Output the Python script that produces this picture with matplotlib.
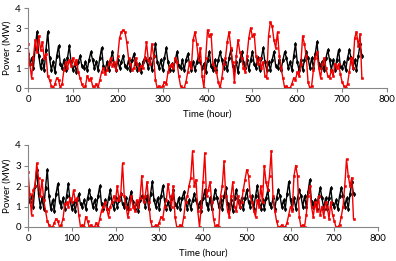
import numpy as np
import matplotlib
matplotlib.use("Agg")
import matplotlib.pyplot as plt

# hourly data sampled every 4 h (0 .. 744 h)
step_hours = 4

load_black = [
    1.7, 1.2, 1.5, 1.0, 2.0, 2.8,
    1.6, 1.0, 1.4, 0.9, 1.9, 2.8,
    1.5, 0.9, 1.3, 0.8, 1.6, 2.1,
    1.2, 1.0, 1.4, 0.9, 1.5, 2.1,
    1.3, 0.9, 1.2, 0.8, 1.3, 1.6,
    1.1, 1.0, 1.3, 0.9, 1.4, 1.8,
    1.4, 1.0, 1.3, 0.9, 1.5, 2.0,
    1.1, 0.9, 1.3, 0.9, 1.4, 1.8,
    1.2, 0.9, 1.4, 1.0, 1.3, 1.6,
    1.1, 1.0, 1.4, 0.9, 1.4, 1.7,
    1.2, 0.9, 1.2, 0.8, 1.3, 1.5,
    1.4, 1.0, 1.5, 0.9, 1.6, 2.2,
    1.3, 1.0, 1.4, 0.9, 1.5, 2.0,
    1.3, 0.9, 1.2, 0.9, 1.4, 1.8,
    1.1, 1.0, 1.4, 0.9, 1.4, 1.7,
    1.2, 0.9, 1.3, 0.9, 1.3, 1.6,
    1.3, 1.0, 1.2, 0.8, 1.4, 1.8,
    1.1, 0.9, 1.4, 0.9, 1.4, 1.8,
    1.4, 1.0, 1.3, 0.9, 1.5, 1.9,
    1.1, 0.9, 1.3, 0.8, 1.4, 1.8,
    1.3, 1.0, 1.4, 0.9, 1.4, 1.8,
    1.2, 1.0, 1.5, 0.9, 1.5, 2.0,
    1.3, 0.9, 1.3, 0.9, 1.4, 1.8,
    1.1, 1.0, 1.4, 0.9, 1.4, 1.8,
    1.5, 1.0, 1.3, 0.9, 1.6, 2.2,
    1.3, 0.9, 1.4, 0.9, 1.4, 1.8,
    1.5, 1.0, 1.5, 1.0, 1.7, 2.3,
    1.2, 1.0, 1.3, 0.9, 1.5, 1.9,
    1.4, 0.9, 1.4, 0.9, 1.4, 1.9,
    1.1, 1.0, 1.3, 0.9, 1.5, 1.9,
    1.5, 1.0, 1.4, 0.9, 1.6, 2.2,
    1.6,
]

red_top = [
    2.2, 1.2, 0.5, 1.5, 2.4, 1.8, 2.6, 1.9, 2.3, 1.5,
    1.7, 0.6, 0.4, 0.1, 0.0, 0.2, 0.5, 0.4, 0.0, 0.2,
    0.9, 1.3, 1.0, 1.4, 1.1, 1.5, 1.2, 1.4, 0.8, 0.5,
    0.2, 0.0, 0.1, 0.6, 0.4, 0.5, 0.1, 0.0, 0.2, 0.0,
    0.4, 0.8, 1.0, 0.7, 0.9, 1.2, 1.5, 1.1, 1.3, 0.9,
    1.6, 2.5, 2.8, 2.9, 2.8, 2.3, 1.5, 1.2, 0.9, 1.0,
    1.5, 1.2, 0.9, 1.1, 1.0, 1.5, 2.3, 1.4, 1.2, 2.2,
    1.6, 0.4, 0.0, 0.1, 0.0, 0.1, 0.3, 0.2, 0.8, 1.1,
    1.2, 1.0, 1.5, 1.3, 0.6, 0.1, 0.0, 0.0, 0.3, 0.8,
    1.3, 1.0, 2.4, 2.8, 2.2, 1.4, 2.0, 0.6, 0.0, 1.5,
    2.9, 2.6, 2.7, 1.2, 1.0, 0.8, 0.3, 0.0, 0.5, 1.2,
    1.5, 2.3, 2.8, 2.0, 1.3, 0.3, 1.6, 2.4, 1.8, 1.5,
    1.0, 0.8, 1.6, 2.5, 3.0, 2.6, 2.7, 1.6, 1.2, 1.5,
    1.0, 1.3, 0.6, 0.5, 2.6, 3.3, 3.1, 2.4, 2.0, 2.8,
    1.6, 1.0, 0.5, 0.0, 0.1, 0.0, 0.0, 0.2, 0.5, 0.4,
    0.8, 0.6, 1.2, 2.6, 2.2, 1.6, 0.3, 0.0, 0.1, 0.9,
    1.5, 1.8, 1.0, 0.5, 1.2, 1.5, 1.0, 0.6, 0.5, 0.9,
    0.6, 1.2, 1.0, 1.2, 0.7, 0.3, 0.1, 0.0, 0.2, 0.8,
    1.5, 1.0, 2.5, 2.8, 2.1, 2.7, 0.5,
]

red_bottom = [
    2.7, 1.6, 0.6, 1.8, 2.0, 3.1, 2.4, 1.5, 2.3, 1.3,
    0.8, 0.3, 0.1, 0.0, 0.0, 0.2, 0.4, 0.3, 0.0, 0.1,
    0.4, 1.1, 1.2, 1.0, 1.4, 1.2, 1.8, 1.3, 1.4, 0.6,
    0.0, 0.1, 0.0, 0.5, 0.3, 0.0, 0.1, 0.0, 0.0, 0.2,
    0.0, 0.4, 0.8, 1.0, 1.2, 0.9, 0.5, 1.0, 1.2, 1.5,
    1.3, 2.0, 1.3, 1.6, 3.1, 1.5, 1.0, 0.5, 0.9, 1.5,
    1.0, 0.8, 1.3, 1.0, 1.4, 2.5, 1.2, 1.5, 2.2, 1.2,
    0.3, 0.0, 0.0, 0.1, 0.0, 0.2, 0.5, 0.4, 1.0, 1.3,
    2.1, 1.5, 1.0, 2.0, 0.5, 0.0, 0.0, 0.1, 0.0, 0.5,
    1.2, 1.5, 2.0, 2.4, 3.7, 2.0, 2.3, 0.8, 0.0, 1.0,
    2.2, 3.6, 1.5, 1.8, 2.2, 1.2, 0.4, 0.0, 0.1, 0.0,
    1.5, 2.0, 3.2, 1.5, 0.8, 0.5, 1.5, 2.2, 1.0, 0.8,
    1.5, 1.0, 1.2, 1.8, 2.3, 2.8, 2.5, 1.5, 1.2, 0.8,
    0.5, 1.3, 1.0, 2.0, 1.2, 3.0, 2.2, 1.8, 2.5, 3.7,
    1.5, 0.8, 0.3, 0.0, 0.0, 0.1, 0.0, 0.0, 0.2, 0.6,
    1.0, 0.8, 2.5, 3.0, 2.5, 0.5, 0.0, 0.1, 0.0, 0.6,
    1.5, 2.0, 1.0, 0.5, 1.2, 0.8, 1.5, 0.6, 1.0, 0.5,
    1.2, 1.0, 0.4, 1.2, 0.6, 0.3, 0.0, 0.0, 0.1, 0.5,
    1.0, 2.0, 3.3, 2.5, 2.0, 2.4, 0.4,
]

x_ticks = [0, 100, 200, 300, 400, 500, 600, 700, 800]
y_ticks = [0, 1, 2, 3, 4]

plt.rcParams["font.family"] = ["Lato", "DejaVu Sans"]
fig = plt.figure(figsize=(3.96, 2.61), dpi=100)
ax_top = fig.add_axes([28 / 396, 1 - 88 / 261, 359 / 396, 80 / 261])
ax_bot = fig.add_axes([28 / 396, 1 - 227 / 261, 350 / 396, 82 / 261])

axis_grey = "#868686"
for ax, red in ((ax_top, red_top), (ax_bot, red_bottom)):
    hb = np.arange(len(load_black)) * step_hours
    hr = np.arange(len(red)) * step_hours
    ax.plot(hb, load_black, color="black", lw=1.0, marker="d", ms=2.2, mew=0.5)
    ax.plot(hr, red, color="#f00000", lw=1.0, marker="s", ms=1.8, mew=0.4)
    ax.set_xlim(0, 800)
    ax.set_ylim(0, 4)
    ax.set_xticks(x_ticks)
    ax.set_yticks(y_ticks)
    for s in ("top", "right"):
        ax.spines[s].set_visible(False)
    for s in ("left", "bottom"):
        ax.spines[s].set_color(axis_grey)
        ax.spines[s].set_linewidth(0.8)
    ax.tick_params(axis="both", labelsize=7, color=axis_grey, length=3,
                   width=0.8, pad=2, labelcolor="black")
    ax.set_xlabel("Time (hour)", fontsize=7, labelpad=4)
    ax.set_ylabel("Power (MW)", fontsize=7, labelpad=3)

fig.savefig("out.png", dpi=100)
